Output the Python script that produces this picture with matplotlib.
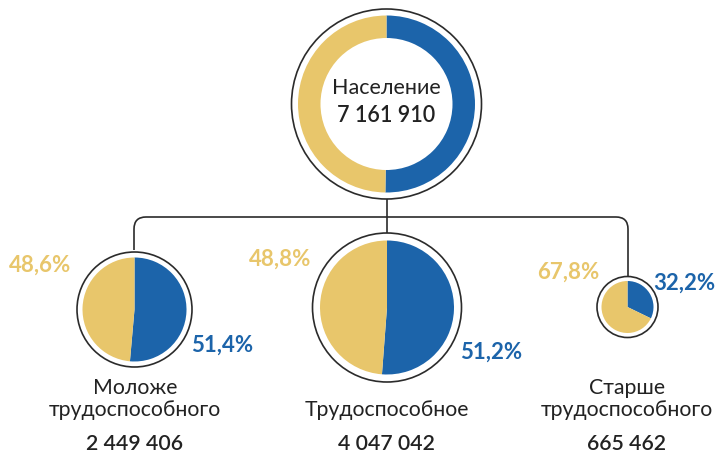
import matplotlib.pyplot as plt
from matplotlib.path import Path
from matplotlib.patches import PathPatch, Circle

# данные
total_label = "Население"
total_value = "7 161 910"
total_shares = [50.2, 49.8]  # синий, жёлтый

groups = ["Моложе\nтрудоспособного", "Трудоспособное", "Старше\nтрудоспособного"]
group_values = ["2 449 406", "4 047 042", "665 462"]
blue_shares = [51.4, 51.2, 32.2]
yellow_shares = [48.6, 48.8, 67.8]

BLUE = "#1c64aa"
YELLOW = "#e8c66b"
LINE = "#2b2b2b"
TEXT = "#222222"

plt.rcParams['font.family'] = ['Lato', 'DejaVu Sans']

W, H = 720, 455
fig = plt.figure(figsize=(7.2, 4.55), dpi=100)
ax = fig.add_axes([0, 0, 1, 1])


def Y(y):
    # координаты картинки (y вниз) -> координаты осей (y вверх)
    return H - y


# верхнее кольцо
top_c = (386.5, Y(104))
ax.add_patch(Circle(top_c, 95, facecolor="white", edgecolor=LINE, lw=1.2, zorder=1))
ax.pie(total_shares, colors=[BLUE, YELLOW], startangle=90, counterclock=False,
       center=top_c, radius=88.5, wedgeprops=dict(width=22.5, linewidth=0))
ax.text(top_c[0], Y(88), total_label, ha="center", va="center", fontsize=15.5, color=TEXT)
ax.text(top_c[0], Y(115), total_value, ha="center", va="center", fontsize=15.5,
        color=TEXT, fontweight="semibold")

# соединительные линии
r = 12
hy = Y(217)
verts = [(134, Y(250)), (134, hy - r), (134, hy), (134 + r, hy),
         (628 - r, hy), (628, hy), (628, hy - r), (628, Y(276))]
codes = [Path.MOVETO, Path.LINETO, Path.CURVE3, Path.CURVE3,
         Path.LINETO, Path.CURVE3, Path.CURVE3, Path.LINETO]
ax.add_patch(PathPatch(Path(verts, codes), facecolor="none", edgecolor=LINE, lw=1.2, zorder=0))
ax.plot([386.5, 386.5], [Y(198), Y(233)], color=LINE, lw=1.2, zorder=0)

# нижние круги
centers = [(134.5, Y(309.5)), (387, Y(307.5)), (627.5, Y(307))]
outer_r = [57.5, 74.5, 30.5]
pie_r = [52, 67, 26]
for c, ro, rp, b, yv in zip(centers, outer_r, pie_r, blue_shares, yellow_shares):
    ax.add_patch(Circle(c, ro, facecolor="white", edgecolor=LINE, lw=1.2, zorder=1))
    ax.pie([b, yv], colors=[BLUE, YELLOW], startangle=90, counterclock=False,
           center=c, radius=rp, wedgeprops=dict(linewidth=0))

# подписи долей
yellow_pos = [(40, 265), (280, 259), (568, 272)]
blue_pos = [(222, 345), (491, 352), (684, 283)]
for (xp, yp), v in zip(yellow_pos, yellow_shares):
    ax.text(xp, Y(yp), f"{v:.1f}%".replace(".", ","), ha="center", va="center",
            fontsize=16, fontweight="bold", color=YELLOW)
for (xp, yp), v in zip(blue_pos, blue_shares):
    ax.text(xp, Y(yp), f"{v:.1f}%".replace(".", ","), ha="center", va="center",
            fontsize=16, fontweight="bold", color=BLUE)

# подписи групп
label_x = [135, 387, 627]
label_y = [399, 410, 399]
for xp, yp, g, v in zip(label_x, label_y, groups, group_values):
    ax.text(xp, Y(yp), g, ha="center", va="center", fontsize=15.3, color=TEXT, linespacing=1.15)
    ax.text(xp, Y(444), v, ha="center", va="center", fontsize=15.3, color=TEXT,
            fontweight="semibold")

ax.set_xlim(0, W)
ax.set_ylim(0, H)
ax.set_aspect("equal")
ax.axis("off")

fig.savefig("out.png", dpi=100, facecolor="white")
